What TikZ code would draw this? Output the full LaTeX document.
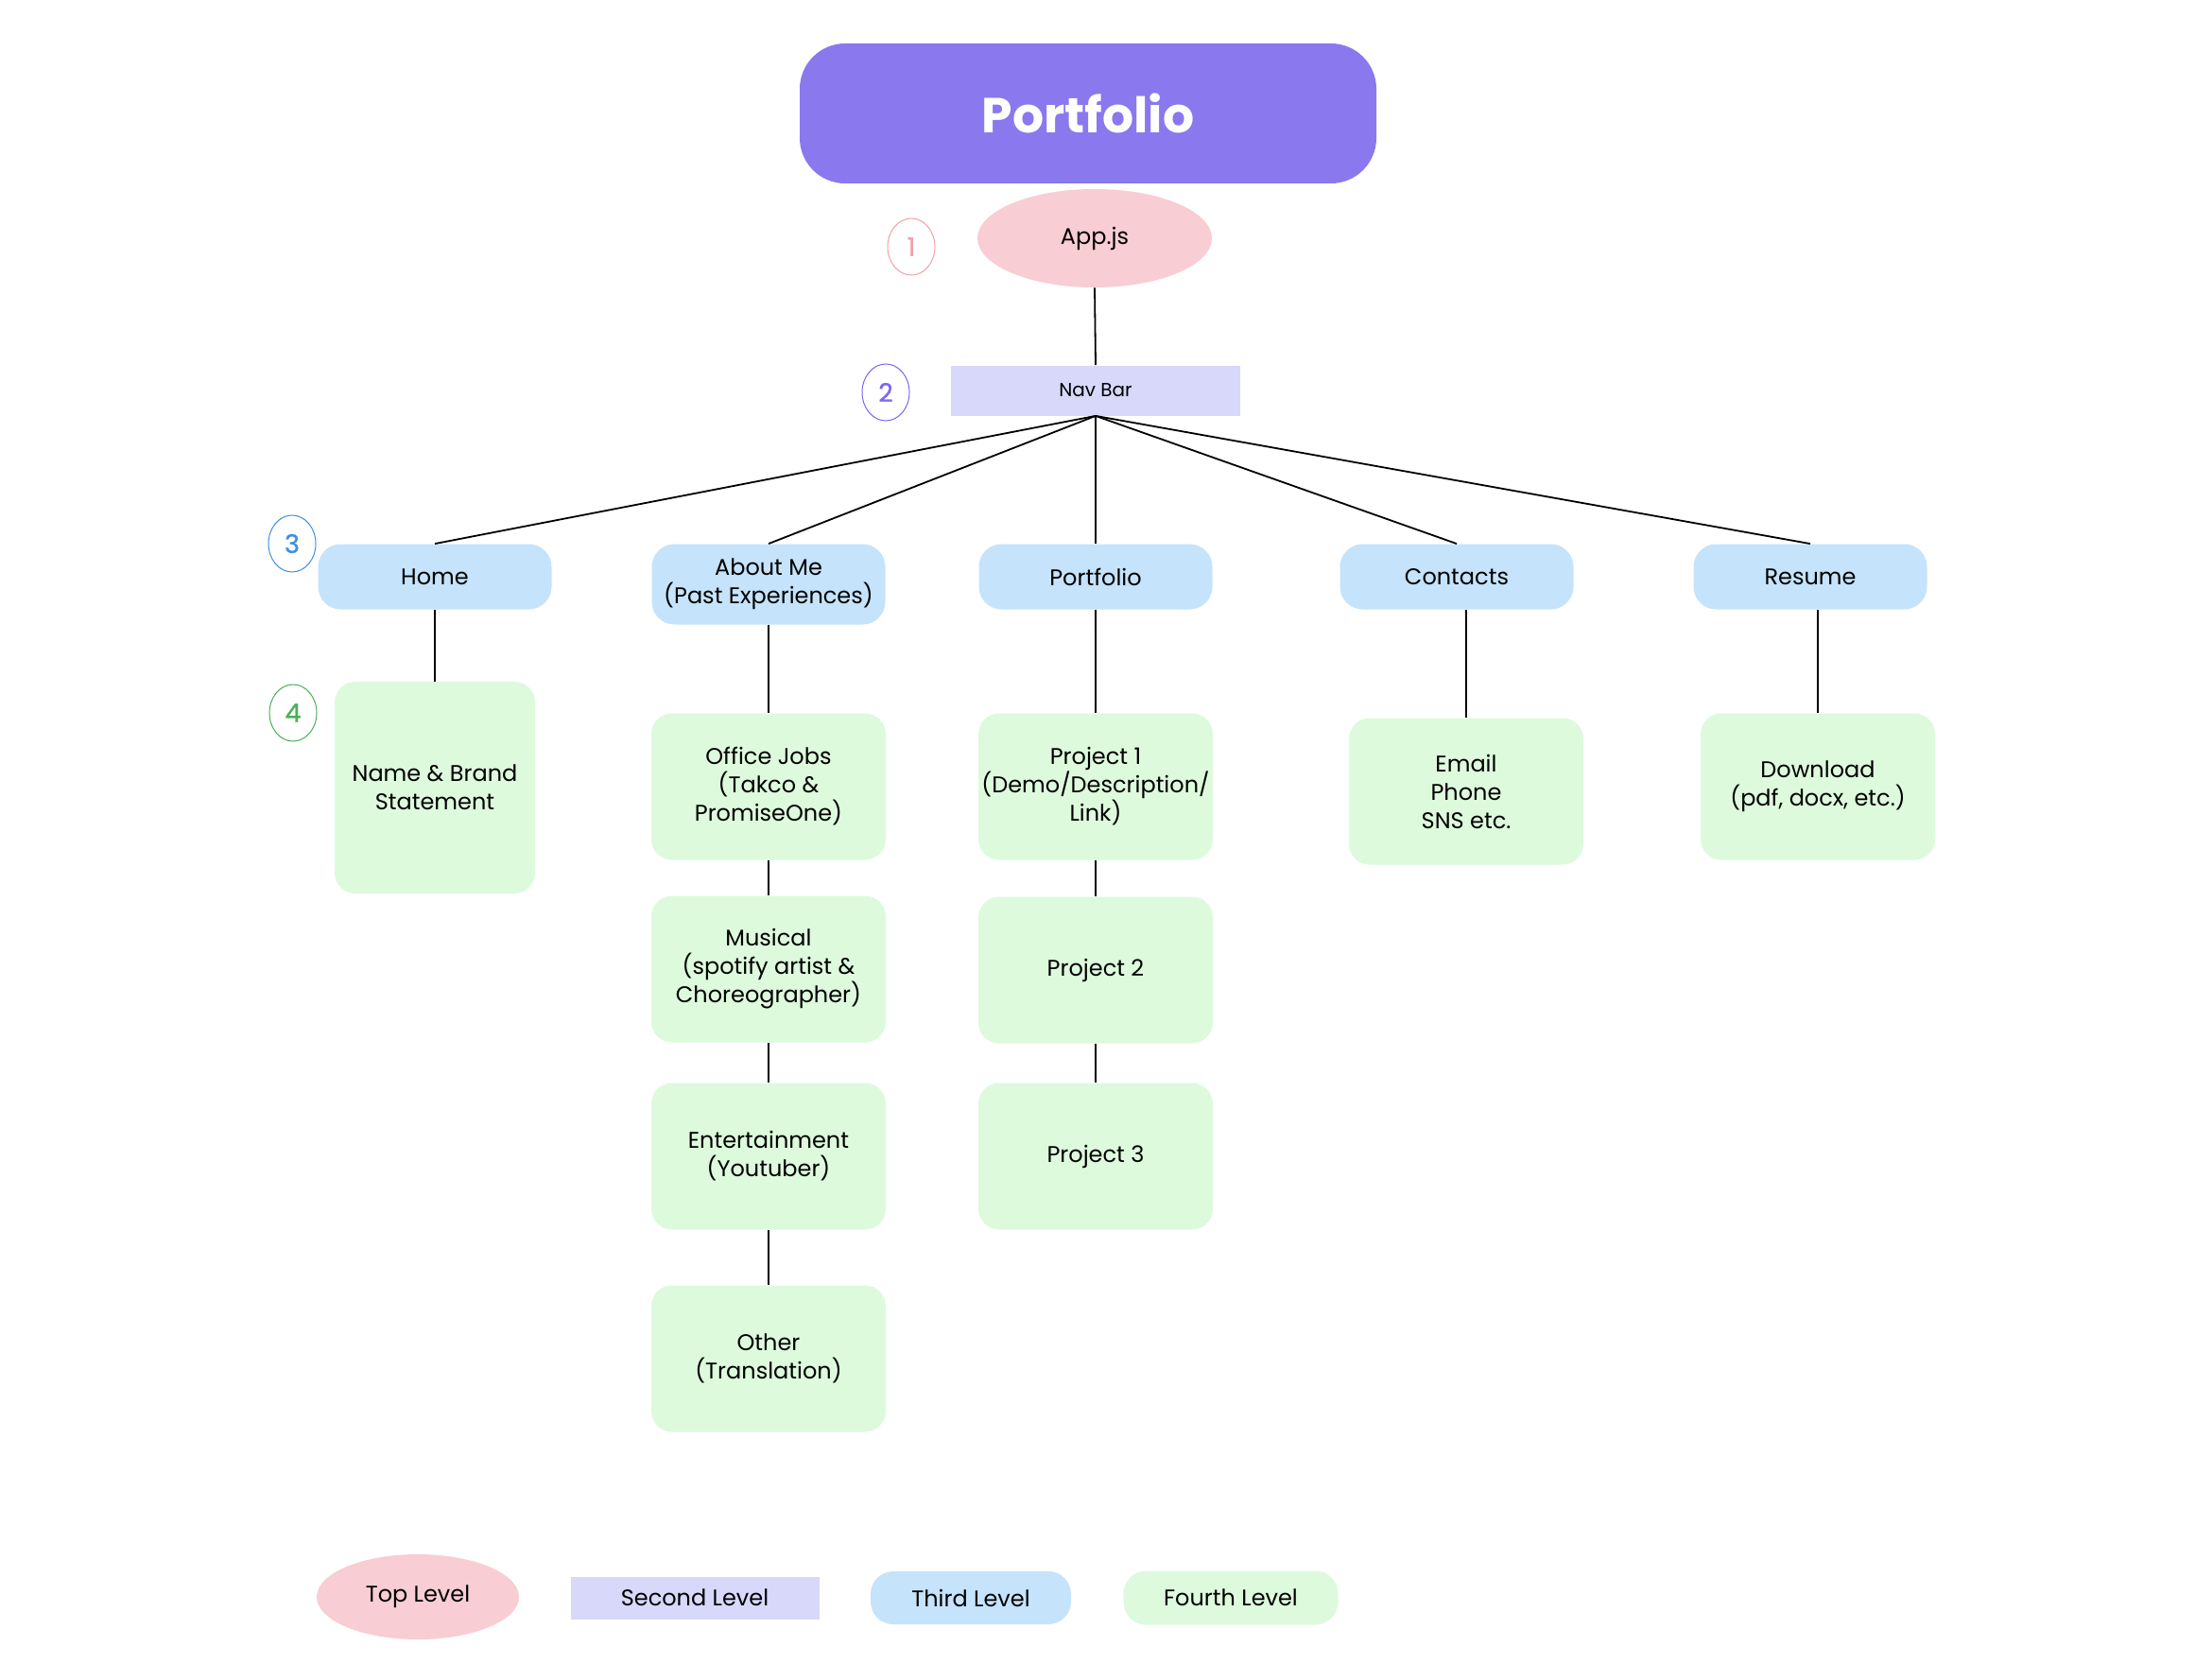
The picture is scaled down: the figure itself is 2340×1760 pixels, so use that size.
\documentclass[tikz,border=0pt]{standalone}
\usepackage{fontspec}
\setmainfont{Poppins}
\newfontfamily\numfont{Poppins}[FakeBold=0.8]
\usetikzlibrary{shapes.geometric}
\definecolor{titlec}{HTML}{8A78EE}
\definecolor{topc}{HTML}{F8CDD3}
\definecolor{secc}{HTML}{D8D8FA}
\definecolor{thirdc}{HTML}{C5E3FA}
\definecolor{fourthc}{HTML}{DDFADD}
\definecolor{onec}{HTML}{F2A0AA}
\definecolor{twoc}{HTML}{7B68EE}
\definecolor{threec}{HTML}{3D8FE6}
\definecolor{fourc}{HTML}{4CAF5C}
\tikzset{
  x=0.5pt,y=-0.5pt,
  every node/.style={font=\fontsize{12}{15}\selectfont, text=black, align=center, inner sep=0pt},
  topbox/.style={ellipse, fill=topc, minimum width=124pt, minimum height=52pt},
  secbox/.style={rectangle, fill=secc, minimum width=153pt, minimum height=26.5pt, font=\fontsize{10}{12}\selectfont},
  thirdbox/.style={rectangle, rounded corners=12pt, fill=thirdc, minimum width=123.5pt, minimum height=34.5pt},
  fourthbox/.style={rectangle, rounded corners=11pt, fill=fourthc, minimum width=124pt, minimum height=77.5pt},
  numc/.style={ellipse, draw=#1, line width=0.5pt, text=#1, minimum width=25pt, minimum height=30pt, font=\numfont\fontsize{13.5}{15}\selectfont},
  link/.style={draw=black, line width=0.9pt},
}
\begin{document}
\begin{tikzpicture}
\useasboundingbox[fill=white] (0,0) rectangle (2340,1760);
% title
\node[rectangle, rounded corners=24pt, fill=titlec, minimum width=305pt, minimum height=74pt, text=white, font=\fontsize{26}{30}\selectfont\bfseries] (title) at (1151,120) {Portfolio};
% level 1-2
\node[topbox] (app) at (1158,252) {\raisebox{-1pt}{App.js}};
\node[numc=onec] (n1) at (964,261) {1};
\node[secbox] (nav) at (1159,413) {Nav Bar};
\node[numc=twoc] (n2) at (937,415) {2};
% level 3
\node[thirdbox] (home) at (460,610) {Home};
\node[thirdbox, minimum height=42.5pt] (about) at (813,618) {About Me\\(Past Experiences)};
\node[thirdbox] (port) at (1159,610) {Portfolio};
\node[thirdbox] (contacts) at (1541,610) {Contacts};
\node[thirdbox] (resume) at (1915,610) {Resume};
\node[numc=threec] (n3) at (309,575) {3};
% level 4
\node[fourthbox, minimum width=106pt, minimum height=112pt] (name) at (460,833) {Name \& Brand\\Statement};
\node[numc=fourc] (n4) at (310,754) {4};
\node[fourthbox] (office) at (813,832) {Office Jobs\\(Takco \&\\PromiseOne)};
\node[fourthbox] (musical) at (813,1025) {Musical\\(spotify artist \&\\Choreographer)};
\node[fourthbox] (ent) at (813,1223) {Entertainment\\(Youtuber)};
\node[fourthbox] (other) at (813,1437) {Other\\(Translation)};
\node[fourthbox] (p1) at (1159,832) {Project 1\\(Demo/Description/\\Link)};
\node[fourthbox] (p2) at (1159,1026) {Project 2};
\node[fourthbox] (p3) at (1159,1223) {Project 3};
\node[fourthbox] (email) at (1551,837) {Email\\Phone\\SNS etc.};
\node[fourthbox] (download) at (1923,832) {Download\\(pdf, docx, etc.)};
% connectors
\draw[link] (app.south) -- (nav.north);
\foreach \t in {home,about,port,contacts,resume}{
  \draw[link] (nav.south) -- (\t.north);
}
\draw[link] (home.south) -- (name.north);
\draw[link] (about.south) -- (office.north);
\draw[link] (office.south) -- (musical.north);
\draw[link] (musical.south) -- (ent.north);
\draw[link] (ent.south) -- (other.north);
\draw[link] (port.south) -- (p1.north);
\draw[link] (p1.south) -- (p2.north);
\draw[link] (p2.south) -- (p3.north);
\draw[link] (email.north) -- (email.north |- contacts.south);
\draw[link] (download.north) -- (download.north |- resume.south);
% legend
\node[topbox, minimum width=107pt, minimum height=45pt] (lg1) at (442,1689) {\raisebox{-1.2pt}{Top Level}};
\node[secbox, minimum width=131.5pt, minimum height=22.5pt, font=\fontsize{12}{15}\selectfont] (lg2) at (735,1690) {Second Level};
\node[thirdbox, minimum width=106pt, minimum height=28pt] (lg3) at (1027,1690) {Third Level};
\node[thirdbox, fill=fourthc, minimum width=113.5pt, minimum height=28.5pt] (lg4) at (1302,1690) {Fourth Level};
\end{tikzpicture}
\end{document}
